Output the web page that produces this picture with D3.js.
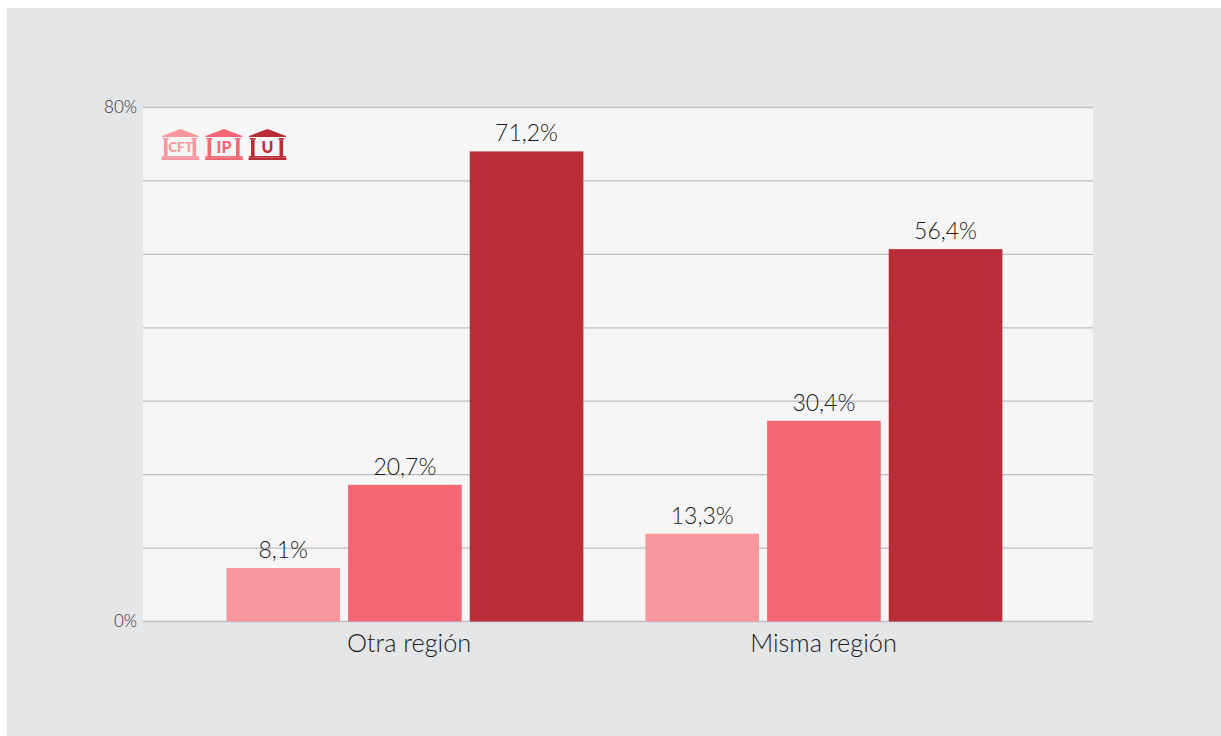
<!DOCTYPE html>
<html><head><meta charset="utf-8">
<script src="https://cdn.jsdelivr.net/npm/d3@7/dist/d3.min.js"></script>
<style>html,body{margin:0;padding:0;background:#fff}svg{display:block}text{font-family:Lato,"Open Sans",sans-serif;font-weight:300}</style>
</head><body><div id="chart"></div>
<script>
const categories = ["Otra región", "Misma región"];
const seriesNames = ["CFT", "IP", "U"];
const cft = [8.1, 13.3];
const ip = [20.7, 30.4];
const u = [71.2, 56.4];
const valueLabels = [["8,1%", "13,3%"], ["20,7%", "30,4%"], ["71,2%", "56,4%"]];
const colors = ["#f8989e", "#f36673", "#b92d39"];
const axisLabels = ["0%", "", "", "", "", "", "", "80%"];
const gridSteps = [0, 1, 2, 3, 4, 5, 6, 7];
const seriesValues = [cft, ip, u];

const W = 1221, H = 736;
const svg = d3.select("#chart").append("svg").attr("width", W).attr("height", H);
svg.append("rect").attr("x", 7).attr("y", 8).attr("width", W - 7).attr("height", H - 8).attr("fill", "#e5e6e8");

const plotL = 143, plotR = 1093, plotT = 107.5, plotB = 621.5;
svg.append("rect").attr("x", plotL).attr("y", plotT).attr("width", plotR - plotL).attr("height", plotB - plotT).attr("fill", "#f6f6f6");

const groupW = 357;
const yBar = d3.scaleLinear().domain([0, 77.85]).range([plotB, plotT]);
const yGrid = d3.scalePoint().domain(gridSteps).range([plotB, plotT]);
const x0 = d3.scaleBand().domain(categories).range([226.4, 1064.4]);
const x1 = d3.scaleBand().domain(seriesNames).range([0, groupW]).paddingInner(0.0658);

const axis = d3.axisLeft(yGrid).tickSize(0).tickPadding(6).tickFormat(d => axisLabels[d]);
const axisG = svg.append("g").attr("transform", `translate(${plotL},0)`).call(axis);
axisG.select(".domain").remove();
axisG.selectAll("text").attr("font-size", 17).attr("fill", "#333").attr("dy", "0.3em");

svg.append("g").selectAll("line").data(gridSteps).join("line")
  .attr("x1", plotL).attr("x2", plotR)
  .attr("y1", d => yGrid(d)).attr("y2", d => yGrid(d))
  .attr("stroke", "#bcbec6").attr("stroke-width", 1.3);

seriesNames.forEach((s, si) => {
  const g = svg.append("g");
  categories.forEach((c, ci) => {
    const v = seriesValues[si][ci];
    const bx = x0(c) + x1(s);
    g.append("rect").attr("x", bx).attr("y", yBar(v))
      .attr("width", x1.bandwidth()).attr("height", plotB - yBar(v)).attr("fill", colors[si]);
    g.append("text").attr("x", bx + x1.bandwidth() / 2).attr("y", yBar(v) - 10)
      .attr("text-anchor", "middle").attr("font-size", 23).attr("fill", "#1a1a1a")
      .text(valueLabels[si][ci]);
  });
});

svg.append("g").selectAll("text").data(categories).join("text")
  .attr("x", (d, i) => x0(d) + groupW / 2 + (i === 0 ? 4.2 : -0.4)).attr("y", 652)
  .attr("text-anchor", "middle").attr("font-size", 25.3).attr("fill", "#1a1a1a").text(d => d);

// legend: small building icons
const legendX = d3.scalePoint().domain(seriesNames).range([162, 249]);
seriesNames.forEach((s, i) => {
  const g = svg.append("g").attr("transform", `translate(${legendX(s)},129)`).attr("fill", colors[i]);
  g.append("path").attr("d", "M0,7 L18.5,0 L37,7 L37,8 L0,8 Z");
  [2, 30.5].forEach(px => {
    g.append("rect").attr("x", px).attr("y", 10.5).attr("width", 3.6).attr("height", 18);
    g.append("rect").attr("x", px - 1).attr("y", 9).attr("width", 5.6).attr("height", 1.6);
  });
  g.append("rect").attr("x", 0).attr("y", 27).attr("width", 37).attr("height", 1.5);
  g.append("rect").attr("x", -0.5).attr("y", 28.5).attr("width", 38).attr("height", 2.5);
  g.append("text").attr("x", 18.5).attr("y", s === "CFT" ? 22.8 : 24).attr("text-anchor", "middle")
    .attr("font-size", s === "CFT" ? 13.5 : 16).attr("style", "font-family:Lato;font-weight:900").text(s);
});
</script></body></html>
